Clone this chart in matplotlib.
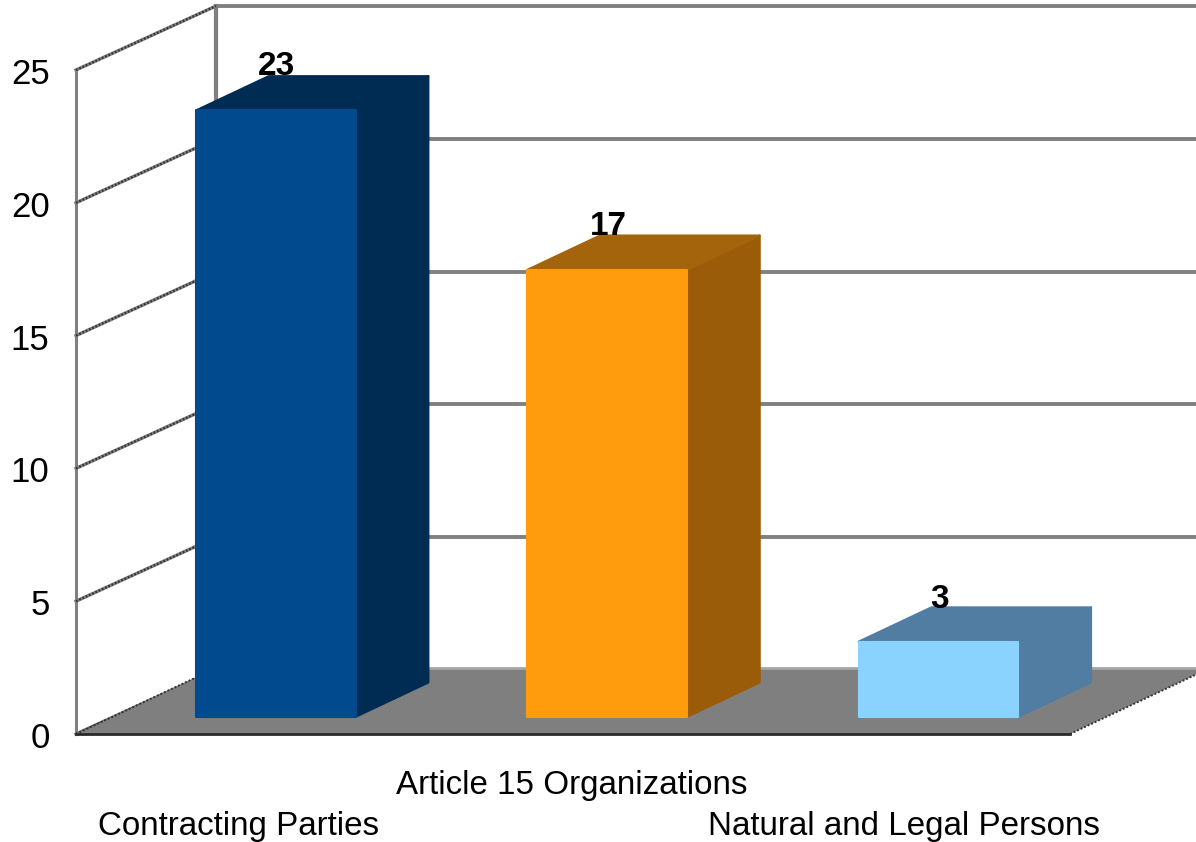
import matplotlib
matplotlib.use("Agg")
import matplotlib.pyplot as plt
from matplotlib.patches import Polygon
from matplotlib.transforms import ScaledTranslation

categories = ["Contracting Parties", "Article 15 Organizations", "Natural and Legal Persons"]
values = [23, 17, 3]
y_ticks = [0, 5, 10, 15, 20, 25]
front_colors = ["#004a8d", "#ff9c0e", "#8ad2ff"]
side_colors = ["#002c54", "#9a5c08", "#527da3"]
top_colors = ["#002c54", "#a4640c", "#527da3"]
label_pads = [49, 8, 49]
label_shifts = [-3.5, -1, 0]

plt.rcParams["font.family"] = ["Liberation Sans", "DejaVu Sans"]
W, H = 1196, 842
fig = plt.figure(figsize=(W / 100, H / 100), dpi=100)
ax = fig.add_axes([76 / W, 1 - 734 / H, 994 / W, 664 / H])
ax.set_xlim(-0.5, 2.5)
ax.set_ylim(0, 25)
ax.patch.set_visible(False)
for s in ax.spines.values():
    s.set_visible(False)

DX = 140 / (994 / 3)   # depth offset, x data units
DY = 66 / (664 / 25)   # depth offset, y data units
WALL_DY = 64 / (664 / 25)
BAR_W = 0.482
BAR_SHIFT = -0.007
BEVEL = 0.17


def P(x, y, d=0.0):
    return (x + DX * d, y + DY * d)


def Wl(x, y):
    return (x + DX, y + WALL_DY)


GRID = "#808080"
for v in y_ticks:
    # side wall
    ax.plot(*zip(P(-0.5, v), Wl(-0.5, v)), color=GRID, lw=2.4, clip_on=False, zorder=1)
    ax.plot(*zip(P(-0.5, v), Wl(-0.5, v)), color="#333333", lw=1.6, ls=(0, (0.8, 0.8)),
            clip_on=False, zorder=1.1)
    # back wall
    if v > 0:
        ax.plot(*zip(Wl(-0.5, v), Wl(2.5, v)), color=GRID, lw=2.8, clip_on=False, zorder=1)
ax.plot(*zip(P(-0.5, 0), P(-0.5, 25)), color=GRID, lw=2.2, clip_on=False, zorder=1)
ax.plot(*zip(P(-0.5, 0, 1), Wl(-0.5, 25)), color=GRID, lw=3, clip_on=False, zorder=1)

# floor
ax.add_patch(Polygon([P(-0.5, 0), P(2.5, 0), P(2.5, 0, 1), P(-0.5, 0, 1)], closed=True,
                     fc="#7f7f7f", ec="none", clip_on=False, zorder=2))
ax.plot(*zip(P(-0.5, 0, 1), P(2.5, 0, 1)), color="#a6a6a6", lw=2, clip_on=False, zorder=2.1)
ax.plot(*zip(P(-0.5, 0), P(2.5, 0)), color="#2a2a2a", lw=2, clip_on=False, zorder=2.2)
ax.plot(*zip(P(2.5, 0), P(2.5, 0, 1)), color="#333333", lw=1.4, ls=(0, (1, 1)),
        clip_on=False, zorder=2.2)
ax.plot(*zip(P(-0.5, 0), P(-0.5, 0, 1)), color="#333333", lw=1.4, ls=(0, (1, 1)),
        clip_on=False, zorder=2.2)

# bars
for i, (v, fc, sc, tc) in enumerate(zip(values, front_colors, side_colors, top_colors)):
    x0 = i + BAR_SHIFT - BAR_W / 2
    x1 = i + BAR_SHIFT + BAR_W / 2
    top = v - BEVEL
    d0, d1 = 0.26, 0.78
    poly = dict(closed=True, lw=1.5, joinstyle="round", clip_on=False, zorder=3 + i)
    ax.add_patch(Polygon([P(x1, 0, d0), P(x1, 0, d1), P(x1, top, d1), P(x1, top, d0)],
                         fc=sc, ec=sc, **poly))
    ax.add_patch(Polygon([P(x0, top, d0), P(x1, top, d0), P(x1, top, d1), P(x0, top, d1)],
                         fc=tc, ec=tc, **poly))
    ax.add_patch(Polygon([P(x0, 0, d0), P(x1, 0, d0), P(x1, top, d0), P(x0, top, d0)],
                         fc=fc, ec=fc, **poly))
    cx, _ = P(i, 0, 0.25)
    ax.text(cx, v + 2.07 + 0.003 * v, str(v), ha="center", va="center", fontsize=24,
            fontweight="bold", color="black", clip_on=False, zorder=10)

ax.set_yticks(y_ticks)
ax.set_yticklabels([str(v) for v in y_ticks], fontsize=25, color="black")
ax.tick_params(axis="y", length=0, pad=19)
ax.set_xticks(range(len(categories)))
ax.set_xticklabels(categories, fontsize=23.9, color="black")
ax.tick_params(axis="x", length=0)
for t, pad in zip(ax.xaxis.get_major_ticks(), label_pads):
    t.set_pad(pad * 0.72 + 20)
for lab, dx in zip(ax.get_xticklabels(), label_shifts):
    lab.set_transform(lab.get_transform() + ScaledTranslation(dx / 100, 0, fig.dpi_scale_trans))
for lab in ax.get_yticklabels():
    lab.set_transform(lab.get_transform() + ScaledTranslation(0, -1 / 100, fig.dpi_scale_trans))

fig.savefig("out.png", dpi=100, facecolor="white")
